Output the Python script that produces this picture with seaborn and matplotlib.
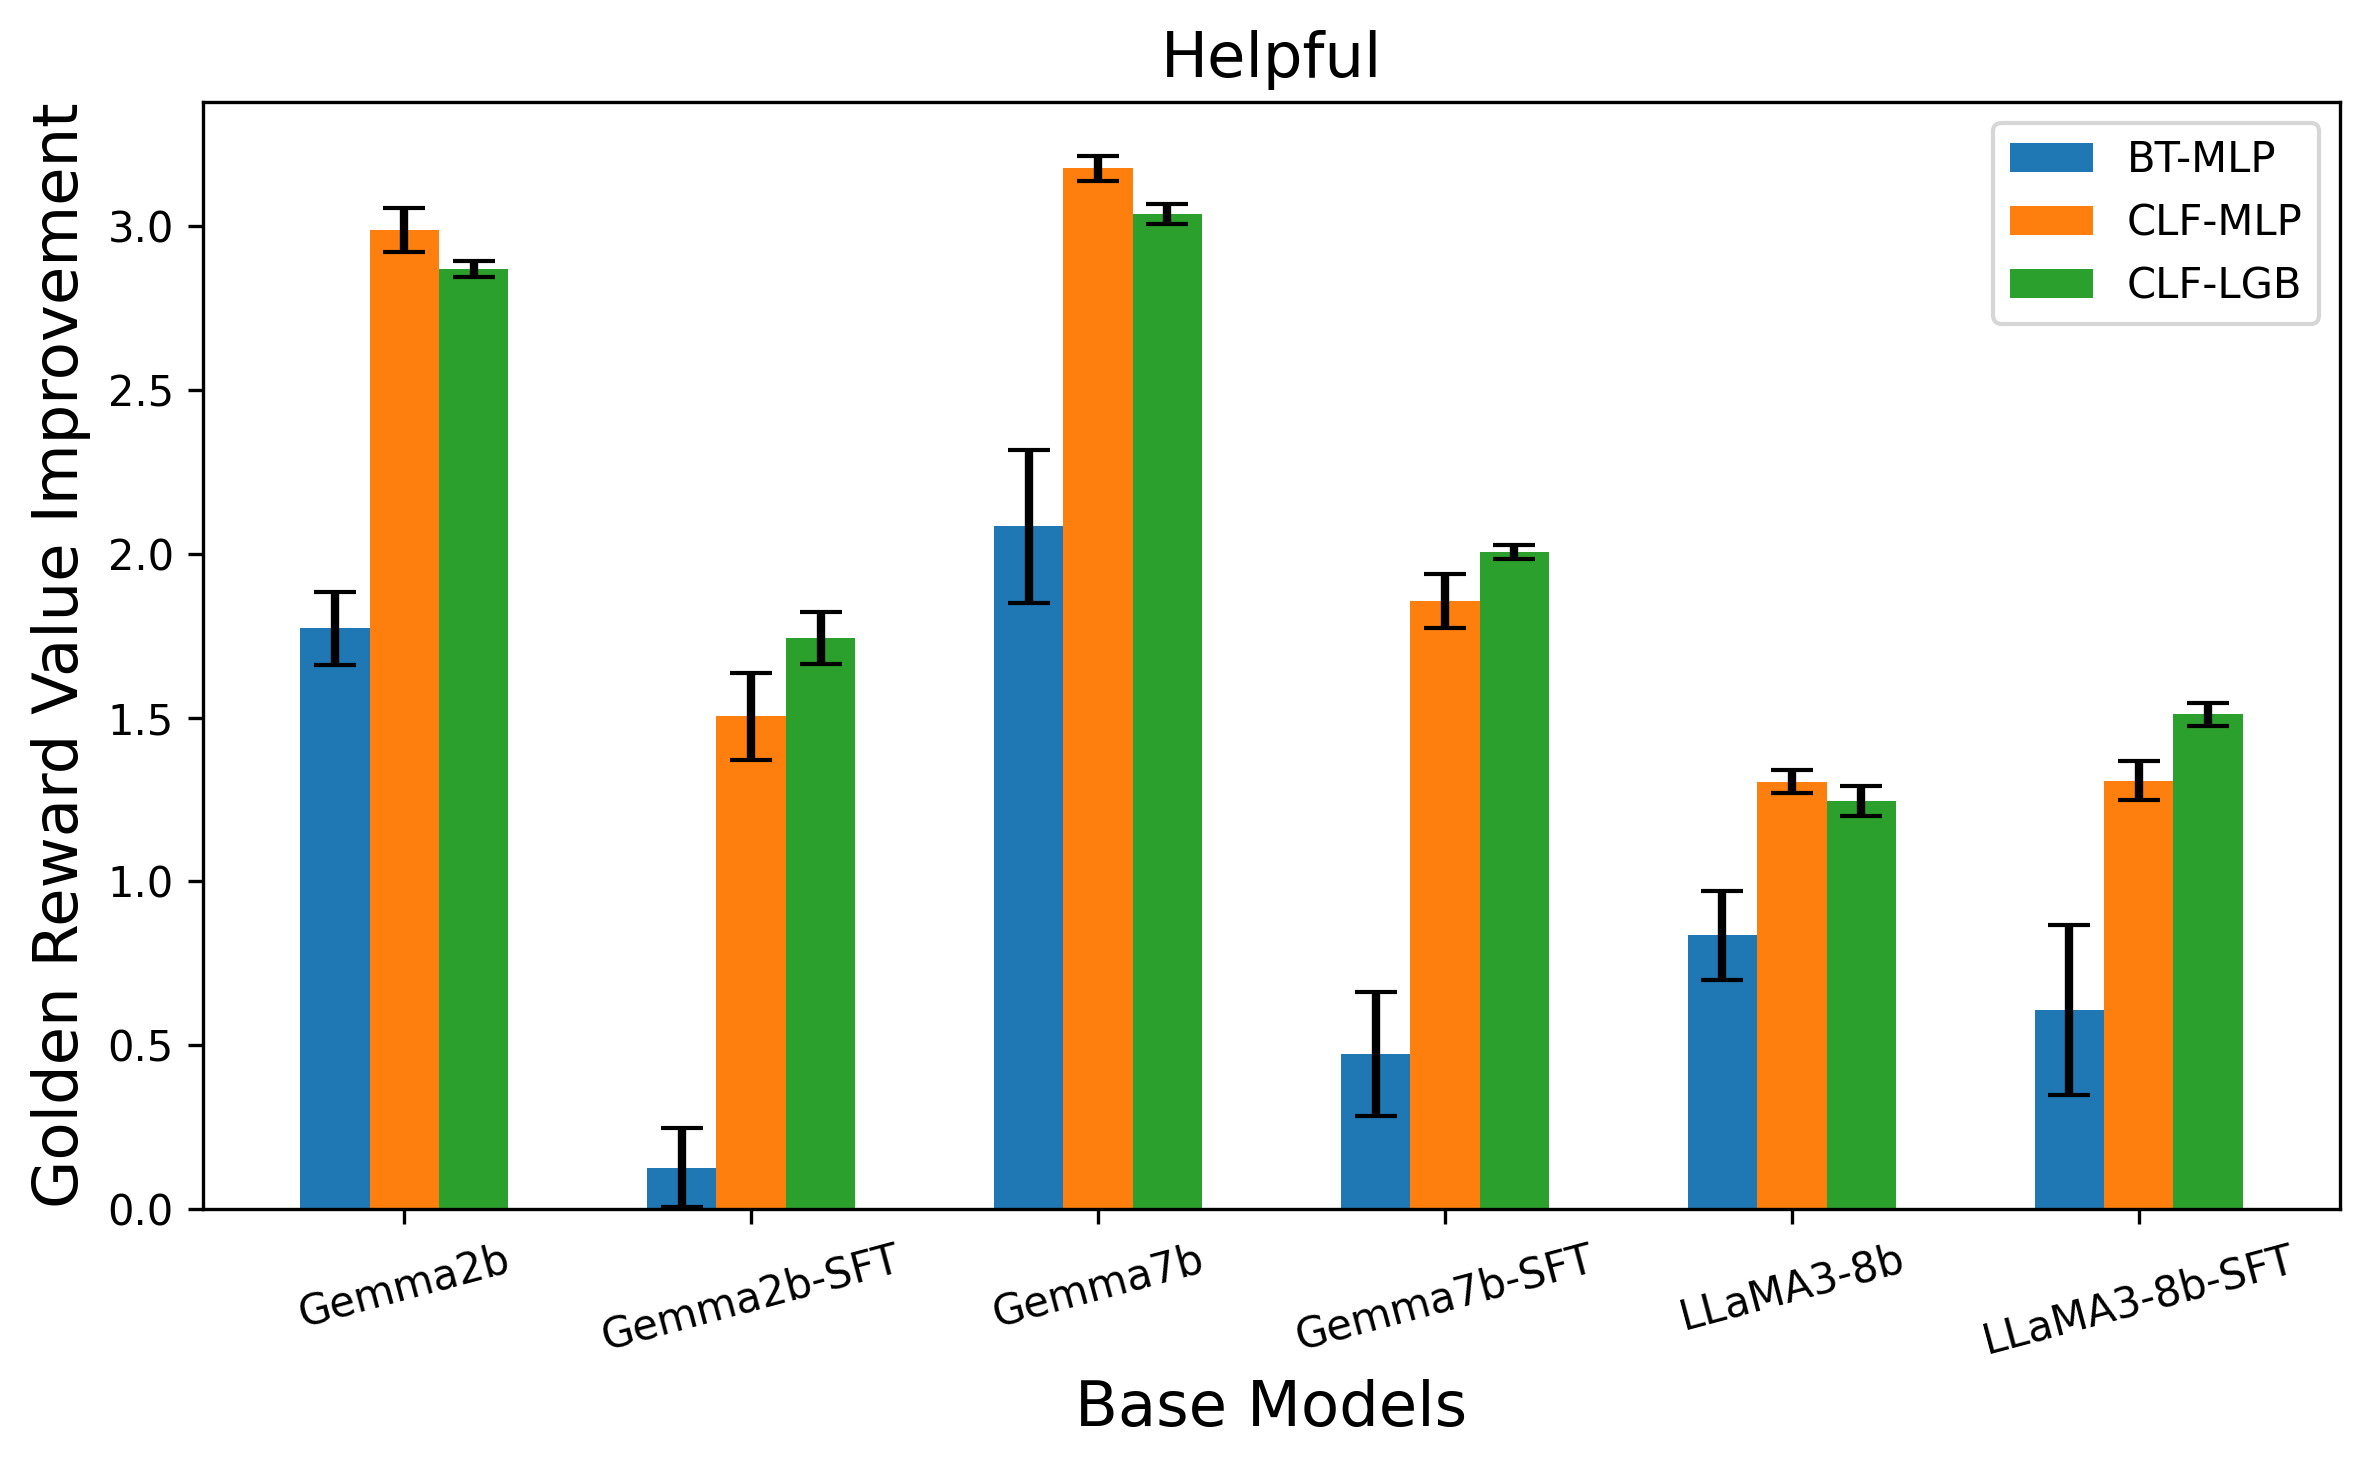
import numpy as np
import pandas as pd
import seaborn as sns
import matplotlib.pyplot as plt

models = ["Gemma2b", "Gemma2b-SFT", "Gemma7b", "Gemma7b-SFT", "LLaMA3-8b", "LLaMA3-8b-SFT"]
methods = ["BT-MLP", "CLF-MLP", "CLF-LGB"]

bt_mlp = [1.773, 0.126, 2.084, 0.473, 0.835, 0.607]
bt_mlp_err = [0.112, 0.121, 0.234, 0.189, 0.137, 0.259]
clf_mlp = [2.988, 1.504, 3.178, 1.856, 1.305, 1.308]
clf_mlp_err = [0.067, 0.133, 0.038, 0.082, 0.034, 0.06]
clf_lgb = [2.870, 1.744, 3.037, 2.006, 1.245, 1.511]
clf_lgb_err = [0.025, 0.08, 0.03, 0.022, 0.045, 0.035]

df = pd.DataFrame({
    "model": models * 3,
    "method": np.repeat(methods, len(models)),
    "value": bt_mlp + clf_mlp + clf_lgb,
    "err": bt_mlp_err + clf_mlp_err + clf_lgb_err,
})

plt.rcParams["font.family"] = ["DejaVu Sans"]

fig, ax = plt.subplots(figsize=(7.9, 4.8967), dpi=300)
sns.barplot(data=df, x="model", y="value", hue="method", order=models,
            hue_order=methods, palette=["#1f77b4", "#ff7f0e", "#2ca02c"],
            width=0.6, errorbar=None, saturation=1, linewidth=0, ax=ax)

# error bars, one set per method
for j, m in enumerate(methods):
    sub = df[df.method == m].set_index("model").loc[models]
    xs = np.arange(len(models)) + (j - 1) * 0.2
    ax.errorbar(xs, sub["value"], yerr=sub["err"], fmt="none",
                ecolor="black", elinewidth=2, capsize=5)

ax.set_title("Helpful", fontsize=15)
ax.set_xlabel("Base Models", fontsize=15)
ax.set_ylabel("Golden Reward Value Improvement", fontsize=15)
ax.tick_params(axis="x", rotation=15)
ax.set_xlim(-0.58, 5.58)
ax.set_ylim(0, 3.38)
ax.legend(title=None, fontsize=10, loc="upper right")

fig.subplots_adjust(left=0.0857, right=0.9873, top=0.9306, bottom=0.177)
fig.savefig("out.png", dpi=300)
